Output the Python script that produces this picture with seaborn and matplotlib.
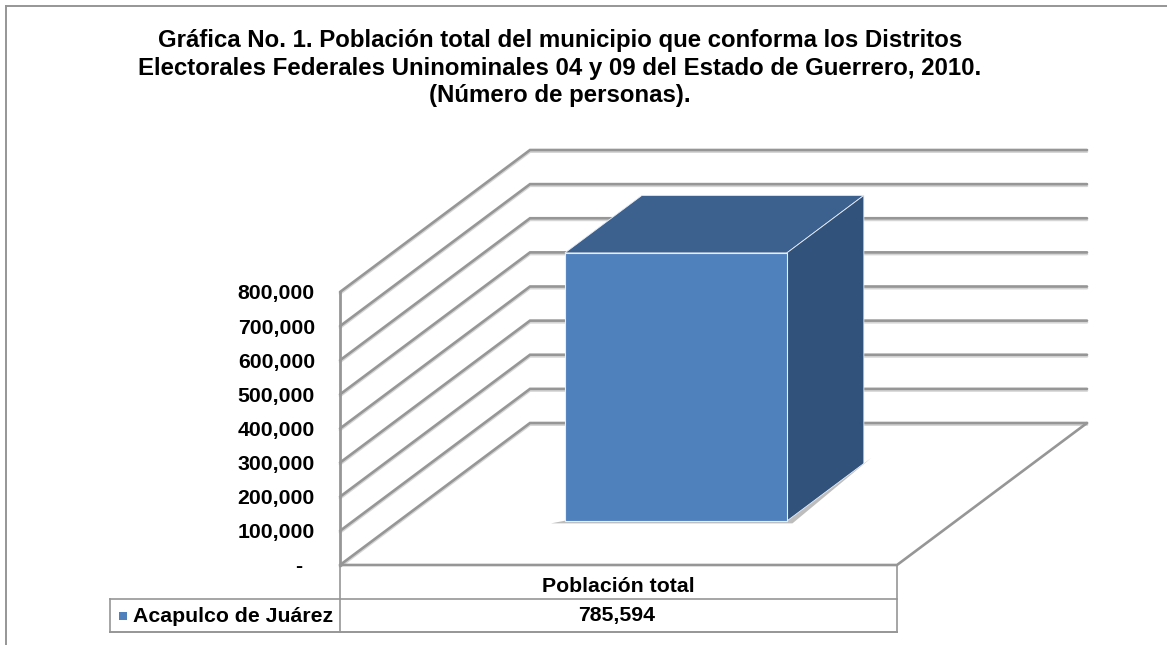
import matplotlib
matplotlib.use("Agg")
import matplotlib.pyplot as plt
import matplotlib.patheffects as pe
from matplotlib.lines import Line2D
from matplotlib.patches import Polygon, Rectangle
import pandas as pd
import seaborn as sns

title_lines = [
    "Gráfica No. 1. Población total del municipio que conforma los Distritos",
    "Electorales Federales Uninominales 04 y 09 del Estado de Guerrero, 2010.",
    "(Número de personas).",
]
categories = ["Población total"]
series_name = "Acapulco de Juárez"
series_values = [785594]
y_ticks = [0, 100000, 200000, 300000, 400000, 500000, 600000, 700000, 800000]

W, H = 1167, 645
GRAY = "#969696"
FRONT = "#4f81bd"
TOP = "#3c618f"
SIDE = "#31527a"
FONT = "Liberation Sans"

sns.set_theme(style="white")
plt.rcParams["font.family"] = [FONT, "DejaVu Sans"]
plt.rcParams["font.weight"] = "bold"

fig = plt.figure(figsize=(W / 100, H / 100), dpi=100)
ax = fig.add_axes([340 / W, 1 - 565 / H, 557 / W, 273 / H])

# oblique depth of the fake 3d box, in axis units per full depth
DEPTH_X = 190 / 557
DEPTH_Y = 142 / 273 * 800000
BAR_D0 = 0.31
BAR_D1 = 0.715


def proj(x, y, d):
    return x + d * DEPTH_X, y + d * DEPTH_Y


def fig_line(x0, y0, x1, y1, lw=1.3, color=GRAY):
    fig.add_artist(Line2D([x0 / W, x1 / W], [1 - y0 / H, 1 - y1 / H], color=color, lw=lw,
                          solid_capstyle="projecting"))


df = pd.DataFrame({"categoria": categories, "municipio": series_name, "poblacion": series_values})
sns.barplot(data=df, x="categoria", y="poblacion", color=FRONT, saturation=1, width=222 / 557,
            bottom=BAR_D0 * DEPTH_Y, errorbar=None, ax=ax, zorder=4)
ax.set_xlim(-0.5, 0.5)
ax.set_ylim(0, 800000)
ax.set_xlabel("")
ax.set_ylabel("")

# move front face back into the floor and add top and side
bar = ax.patches[0]
bar.set_x(bar.get_x() + BAR_D0 * DEPTH_X - 1.5 / 557)
bar.set_clip_on(False)
bar.set_edgecolor("#e8eef6")
bar.set_linewidth(0.8)
x0, x1 = bar.get_x(), bar.get_x() + bar.get_width()
y0, y1 = bar.get_y(), bar.get_y() + bar.get_height()
step = BAR_D1 - BAR_D0
top = [(x0, y1), (x1, y1), proj(x1, y1, step), proj(x0, y1, step)]
side = [(x1, y0), (x1, y1), proj(x1, y1, step), proj(x1, y0, step)]
ax.add_patch(Polygon(top, closed=True, fc=TOP, ec="#e8eef6", lw=0.6, clip_on=False, zorder=3))
ax.add_patch(Polygon(side, closed=True, fc=SIDE, ec="#e8eef6", lw=0.6, clip_on=False, zorder=3))
shadow = [(x0 - 0.025, y0 - 7000), (x1 + 0.01, y0 - 7000), proj(x1, y0, step + 0.04), proj(x1, y0, step)]
ax.add_patch(Polygon(shadow, closed=True, fc="#bdbdbd", ec="none", clip_on=False, zorder=2))

# walls and floor
grid_fx = [pe.SimpleLineShadow(offset=(0, -1.2), shadow_color="#c4c4c4", alpha=0.7), pe.Normal()]
for v in y_ticks:
    bx, by = proj(-0.5, v, 1)
    ex, ey = proj(0.5, v, 1)
    ax.plot([-0.5, bx, ex], [v, by, ey], color=GRAY, lw=1.9, clip_on=False, zorder=1,
            path_effects=grid_fx, solid_joinstyle="miter")
ex, ey = proj(0.5, 0, 1)
ax.plot([-0.5, 0.5, ex], [0, 0, ey], color=GRAY, lw=1.9, clip_on=False, zorder=1, solid_joinstyle="miter")

ax.set_yticks(y_ticks)
ax.set_yticklabels([f"{v:,}" if v else "-  " for v in y_ticks], fontsize=15.3, color="black", fontweight="bold")
ax.set_xticks([0])
ax.set_xticklabels(categories, fontsize=15.3, color="black", fontweight="bold")
ax.tick_params(axis="y", length=0, pad=18)
ax.tick_params(axis="x", length=0, pad=9)
sns.despine(ax=ax, top=True, right=True, bottom=True)
ax.spines["left"].set_color(GRAY)
ax.spines["left"].set_linewidth(2.0)
ax.patch.set_alpha(0)

fig.text(560 / W, 1 - 29 / H, "\n".join(title_lines), ha="center", va="top", fontsize=17.3,
         fontweight="bold", color="black", linespacing=1.26)

# outer frame, open at right and bottom
fig_line(6, 6, W, 6, lw=1.4)
fig_line(6, 6, 6, H, lw=1.4)

# data table under the axis
fig_line(340, 565, 340, 632, lw=1.2)
fig_line(897, 565, 897, 632, lw=1.2)
fig_line(110, 599, 897, 599, lw=1.2)
fig_line(110, 632, 897, 632, lw=1.4)
fig_line(110, 599, 110, 632, lw=1.2)
fig.add_artist(Rectangle((119 / W, 1 - 620 / H), 8 / W, 8 / H, transform=fig.transFigure, fc=FRONT, ec="none"))
fig.text(133 / W, 1 - 616 / H, series_name, ha="left", va="center", fontsize=15.3, fontweight="bold", color="black")
fig.text(617 / W, 1 - 616 / H, f"{series_values[0]:,}", ha="center", va="center", fontsize=15.3,
         fontweight="bold", color="black")

fig.savefig("out.png", dpi=100, facecolor="white")
